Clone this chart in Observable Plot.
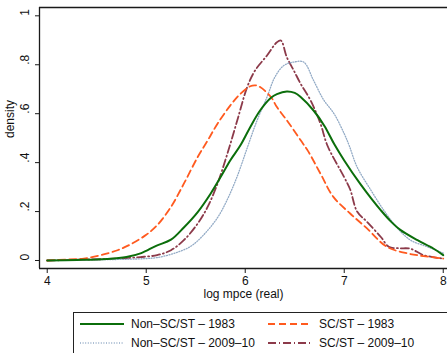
<!DOCTYPE html>
<html>
<head>
<meta charset="utf-8">
<script src="https://cdn.jsdelivr.net/npm/d3@7"></script>
<script src="https://cdn.jsdelivr.net/npm/@observablehq/plot@0.6"></script>
<style>
  html, body { margin: 0; padding: 0; background: #fff; }
  #wrap { position: relative; width: 447px; height: 353px; overflow: hidden; background: #fff;
          font-family: "Liberation Sans", Arial, Helvetica, sans-serif; }
  #legend { position: absolute; left: 73px; top: 312px; width: 420px; height: 60px;
            border: 1px solid #222; box-sizing: border-box; }
  .sw { position: absolute; width: 44px; height: 6px; }
  .lb { position: absolute; font-size: 12px; line-height: 14px; color: #111; white-space: nowrap; }
</style>
</head>
<body>
<div id="wrap">
  <div id="chart"></div>
  <div id="legend"></div>
</div>
<script>
// ---- data ----
const seriesNames = ["Non–SC/ST – 1983", "SC/ST – 1983", "Non–SC/ST – 2009–10", "SC/ST – 2009–10"];

const xNon1983 = [4.0, 4.3, 4.6, 4.8, 4.95, 5.1, 5.25, 5.38, 5.52, 5.65, 5.75, 5.85, 5.95, 6.05, 6.15, 6.26, 6.32, 6.42, 6.5, 6.56, 6.69, 6.8, 6.9, 7.0, 7.16, 7.27, 7.37, 7.47, 7.57, 7.74, 7.9, 8.0];
const yNon1983 = [0.0, 0.002, 0.006, 0.014, 0.03, 0.06, 0.085, 0.135, 0.198, 0.273, 0.34, 0.41, 0.47, 0.545, 0.613, 0.665, 0.68, 0.691, 0.685, 0.668, 0.613, 0.55, 0.475, 0.409, 0.314, 0.255, 0.205, 0.16, 0.124, 0.083, 0.049, 0.022];

const xSC1983 = [4.0, 4.2, 4.37, 4.54, 4.71, 4.85, 5.0, 5.11, 5.25, 5.38, 5.52, 5.62, 5.72, 5.85, 5.95, 6.05, 6.1, 6.15, 6.26, 6.32, 6.42, 6.56, 6.63, 6.76, 6.89, 7.06, 7.23, 7.43, 7.64, 7.8, 8.0];
const ySC1983 = [0.0, 0.004, 0.008, 0.022, 0.042, 0.068, 0.105, 0.144, 0.219, 0.314, 0.423, 0.49, 0.559, 0.634, 0.681, 0.712, 0.716, 0.709, 0.668, 0.627, 0.573, 0.491, 0.45, 0.355, 0.26, 0.192, 0.131, 0.056, 0.029, 0.018, 0.008];

const xNon2009 = [4.0, 4.5, 4.8, 5.0, 5.11, 5.28, 5.45, 5.58, 5.72, 5.82, 5.92, 6.02, 6.12, 6.22, 6.3, 6.39, 6.49, 6.59, 6.69, 6.79, 6.9, 7.0, 7.05, 7.13, 7.27, 7.4, 7.54, 7.67, 7.84, 8.0];
const yNon2009 = [0.0, 0.003, 0.005, 0.008, 0.012, 0.029, 0.058, 0.105, 0.175, 0.25, 0.345, 0.46, 0.573, 0.668, 0.75, 0.797, 0.811, 0.811, 0.736, 0.658, 0.598, 0.518, 0.47, 0.382, 0.287, 0.205, 0.131, 0.083, 0.056, 0.03];

const xSC2009 = [4.0, 4.3, 4.6, 4.8, 4.94, 5.11, 5.25, 5.38, 5.52, 5.62, 5.72, 5.82, 5.92, 6.02, 6.1, 6.22, 6.32, 6.36, 6.42, 6.49, 6.56, 6.66, 6.76, 6.83, 7.0, 7.06, 7.13, 7.23, 7.37, 7.45, 7.55, 7.67, 7.8, 8.0];
const ySC2009 = [0.0, 0.003, 0.006, 0.01, 0.014, 0.022, 0.042, 0.083, 0.151, 0.219, 0.314, 0.437, 0.573, 0.709, 0.777, 0.838, 0.892, 0.899, 0.831, 0.777, 0.722, 0.654, 0.559, 0.47, 0.34, 0.29, 0.2, 0.158, 0.096, 0.056, 0.05, 0.048, 0.022, 0.008];

const xTicks = [4, 5, 6, 7, 8];
const xTickLabels = ["4", "5", "6", "7", "8"];
const yTicks = [0, 0.2, 0.4, 0.6, 0.8, 1];
const yTickLabels = ["0", ".2", ".4", ".6", ".8", "1"];
const xLabel = "log mpce (real)";
const yLabel = "density";

const xDomain = [3.922, 8.043];
const yDomain = [-0.0327, 1.034];

// ---- styles ----
const styles = [
  {stroke: "#0b6e0b", width: 2,   dash: null},
  {stroke: "#ff5a1f", width: 1.8, dash: "7,4"},
  {stroke: "#93abc6", width: 1.3, dash: "1,1.6"},
  {stroke: "#8c3a4a", width: 1.8, dash: "8,3,1,3"}
];

const table = (xs, ys) => xs.map((x, i) => ({x, y: ys[i]}));
const tables = [table(xNon1983, yNon1983), table(xSC1983, ySC1983), table(xNon2009, yNon2009), table(xSC2009, ySC2009)];

const W = 447, H = 310;
const axisColor = "#1a1a1a";

const lineMarks = [3, 2, 1, 0].map(i => Plot.line(tables[i], {
  x: "x", y: "y", curve: "catmull-rom",
  stroke: styles[i].stroke, strokeWidth: styles[i].width,
  strokeDasharray: styles[i].dash || undefined
}));

const chart = Plot.plot({
  width: W, height: H,
  marginLeft: 39, marginRight: 0, marginTop: 7, marginBottom: H - 268,
  x: {domain: xDomain},
  y: {domain: yDomain},
  style: {fontFamily: "'Liberation Sans', Arial, Helvetica, sans-serif", fontSize: "12px", background: "white", color: "#111"},
  marks: [
    Plot.axisX({ticks: xTicks, tickFormat: (d) => xTickLabels[xTicks.indexOf(d)], tickSize: 5, tickPadding: 3, label: null, stroke: axisColor}),
    Plot.axisY({ticks: yTicks, tickSize: 4, tickFormat: () => "", label: null, stroke: axisColor}),
    Plot.text(yTicks, {y: d => d, text: (d, i) => yTickLabels[i], frameAnchor: "left", dx: -14, rotate: -90, fill: "#111"}),
    Plot.text([xLabel], {text: d => d, frameAnchor: "bottom", dy: 29, fill: "#111"}),
    Plot.text([yLabel], {text: d => d, frameAnchor: "left", dx: -29, rotate: -90, fill: "#111"}),
    ...lineMarks,
    Plot.ruleX([xDomain[0]], {stroke: axisColor, strokeWidth: 1.3}),
    Plot.ruleY([yDomain[0]], {stroke: axisColor, strokeWidth: 1.3}),
    Plot.ruleY([yDomain[1]], {stroke: axisColor, strokeWidth: 1.3})
  ]
});
document.getElementById("chart").appendChild(chart);

// ---- legend ----
const legend = document.getElementById("legend");
const order = [0, 1, 2, 3];
const pos = [
  {sx: 6, tx: 57, cy: 11},
  {sx: 194, tx: 245, cy: 11},
  {sx: 6, tx: 57, cy: 30},
  {sx: 194, tx: 245, cy: 30}
];
order.forEach((i, k) => {
  const p = pos[k], s = styles[i];
  const ns = "http://www.w3.org/2000/svg";
  const svg = document.createElementNS(ns, "svg");
  svg.setAttribute("class", "sw");
  svg.setAttribute("width", 44); svg.setAttribute("height", 6);
  svg.style.left = p.sx + "px"; svg.style.top = (p.cy - 3) + "px";
  const ln = document.createElementNS(ns, "line");
  ln.setAttribute("x1", 0); ln.setAttribute("x2", 44);
  ln.setAttribute("y1", 3); ln.setAttribute("y2", 3);
  ln.setAttribute("stroke", s.stroke);
  ln.setAttribute("stroke-width", s.width);
  if (s.dash) ln.setAttribute("stroke-dasharray", s.dash);
  svg.appendChild(ln);
  legend.appendChild(svg);
  const t = document.createElement("div");
  t.className = "lb";
  t.textContent = seriesNames[i];
  t.style.left = p.tx + "px"; t.style.top = (p.cy - 7) + "px";
  legend.appendChild(t);
});
</script>
</body>
</html>
